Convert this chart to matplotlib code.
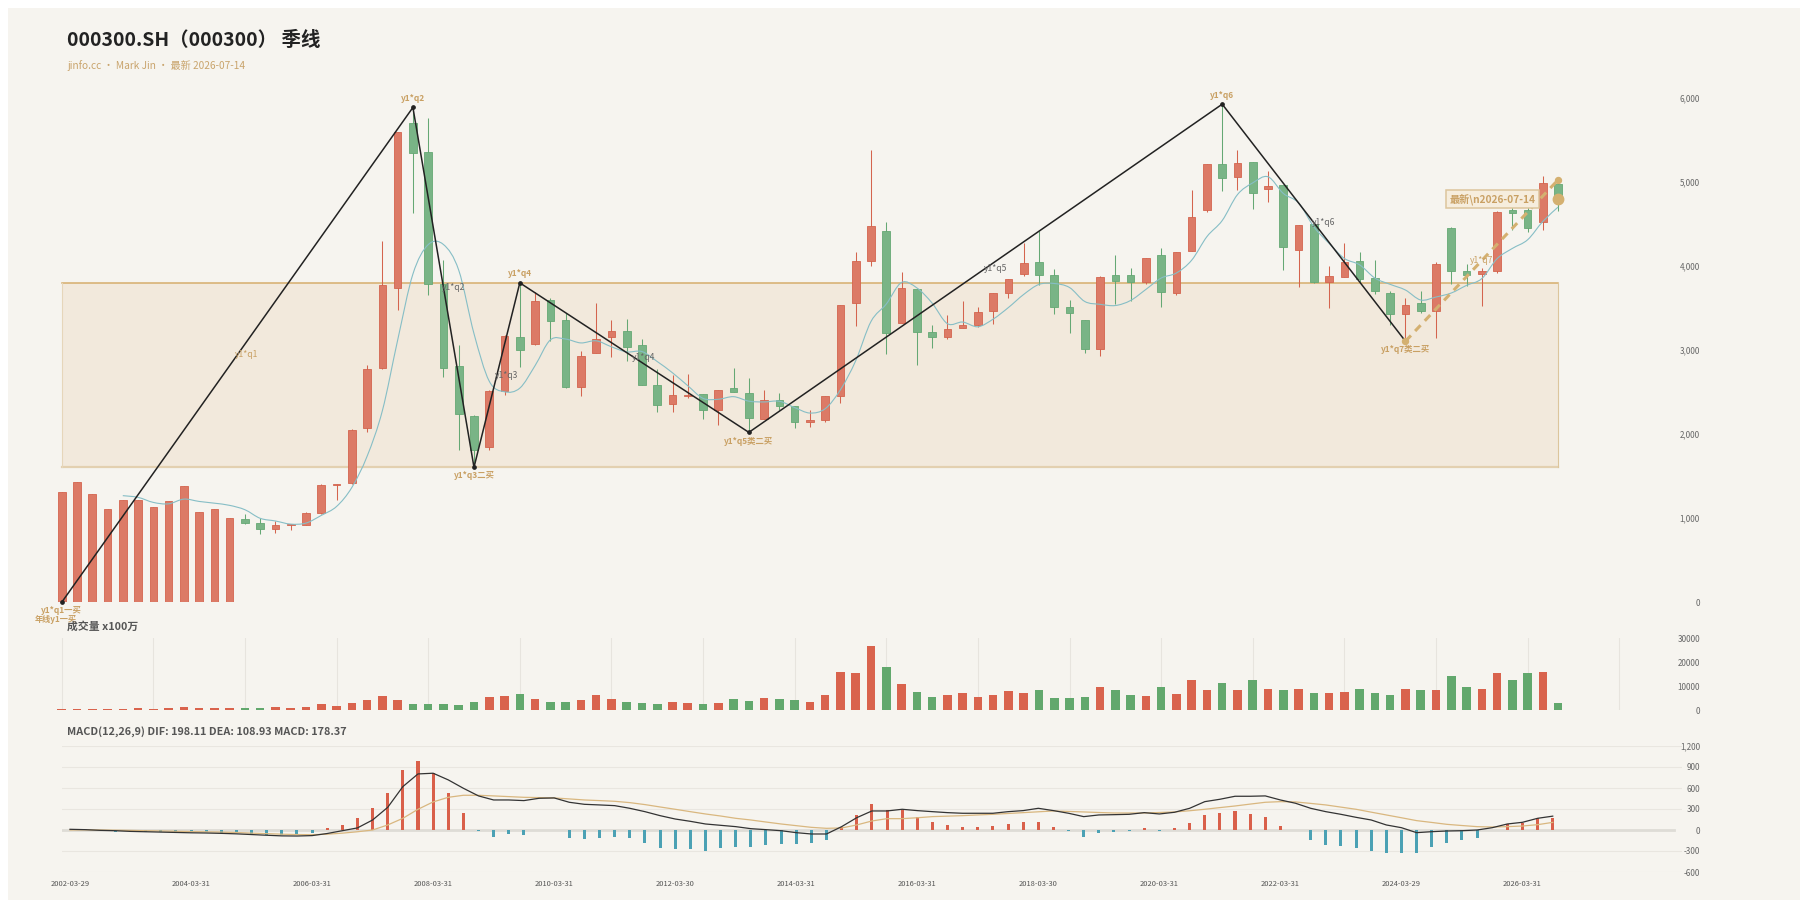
import numpy as np
import pandas as pd
import matplotlib
matplotlib.use("Agg")
import matplotlib.pyplot as plt
from matplotlib.patches import Rectangle, PathPatch
from matplotlib.path import Path

plt.rcParams['font.family'] = ['Noto Sans CJK SC', 'DejaVu Sans']
plt.rcParams['axes.unicode_minus'] = False

# ---------------- data ----------------
title = "000300.SH（000300） 季线"
subtitle = "jinfo.cc · Mark Jin · 最新 2026-07-14"
vol_title = "成交量 x100万"
macd_title = "MACD(12,26,9) DIF: 198.11 DEA: 108.93 MACD: 178.37"

opens = [0, 0, 0, 0, 0, 0, 0, 0, 0, 0, 0, 0,
         992, 941, 874, 918, 923, 1063, 1397, 1418, 2071, 2791, 3745, 5711, 5364, 3795, 2812, 2213,
         1849, 2510, 3155, 3075, 3598, 3356, 2561, 2967, 3155, 3230, 3063, 2590, 2364, 2452, 2477,
         2289, 2552, 2490, 2184, 2414, 2331, 2151, 2172, 2456, 3565, 4059, 4423, 3322, 3732, 3218,
         3155, 3264, 3305, 3473, 3678, 3912, 4054, 3900, 3510, 3364, 3021, 3900, 3900, 3816, 4130,
         3678, 4180, 4671, 5221, 5065, 5247, 4922, 4965, 4199, 4498, 3810, 3870, 4069, 3861, 3688,
         3437, 3567, 3463, 4459, 3944, 3905, 3939, 4671, 4675, 4524, 4978]
closes = [1314, 1431, 1285, 1105, 1213, 1213, 1130, 1201, 1385, 1075, 1109, 1000,
          941, 874, 916, 923, 1063, 1397, 1405, 2046, 2782, 3774, 5594, 5343, 3795, 2791, 2247, 1816,
          2510, 3167, 3008, 3586, 3347, 2561, 2937, 3134, 3230, 3042, 2582, 2343, 2464, 2462, 2289,
          2527, 2498, 2197, 2414, 2331, 2151, 2172, 2456, 3544, 4059, 4485, 3209, 3741, 3222, 3155,
          3259, 3305, 3460, 3678, 3845, 4038, 3900, 3515, 3439, 3013, 3870, 3828, 3816, 4096, 3690,
          4172, 4590, 5221, 5052, 5234, 4870, 4952, 4229, 4489, 3810, 3883, 4056, 3848, 3701, 3437,
          3545, 3463, 4026, 3939, 3892, 3948, 4649, 4636, 4455, 4987, 4801]
highs = [1314, 1431, 1285, 1105, 1213, 1213, 1130, 1201, 1385, 1075, 1109, 1000,
         1054, 1000, 962, 930, 1075, 1410, 1412, 2060, 2830, 4297, 5600, 5891, 5770, 4079, 3063,
         2230, 2530, 3188, 3803, 3699, 3620, 3440, 2990, 3561, 3356, 3377, 3130, 2782, 2707, 2720,
         2477, 2527, 2791, 2665, 2531, 2490, 2331, 2289, 2456, 3544, 4172, 5385, 4527, 3929, 3732,
         3301, 3418, 3586, 3510, 3678, 3845, 4276, 4423, 3962, 3594, 3364, 3887, 4130, 3983, 4096,
         4222, 4172, 4904, 5221, 5930, 5385, 5247, 5138, 4965, 4489, 4498, 4004, 4273, 4173, 4074,
         3710, 3623, 3710, 4048, 4467, 4026, 3978, 4662, 4727, 4727, 5074, 5052]
lows = [0, 0, 0, 0, 0, 0, 0, 0, 0, 0, 0, 0,
        929, 812, 824, 855, 918, 1050, 1222, 1410, 2030, 2780, 3481, 4632, 3661, 2686, 1808,
        1607, 1810, 2464, 2799, 3060, 3105, 2550, 2460, 2967, 2916, 2874, 2582, 2268, 2268, 2430,
        2184, 2109, 2498, 2023, 2184, 2289, 2080, 2092, 2142, 2372, 3293, 4004, 2958, 3322, 2824,
        3029, 3138, 3264, 3272, 3314, 3619, 3879, 3774, 3427, 3201, 2971, 2937, 3556, 3586, 3795,
        3510, 3661, 4180, 4650, 4892, 4913, 4684, 4771, 3957, 3753, 3800, 3502, 3870, 3818, 3675,
        3299, 3108, 3450, 3147, 3788, 3766, 3524, 3926, 4433, 4403, 4433, 4662]
volumes = [420, 420, 420, 420, 420, 840, 420, 840, 1120, 840, 840, 840,
           840, 840, 1120, 840, 1255, 2510, 1530, 2790, 4320, 5720, 4180, 2370, 2370, 2370, 2230,
           3490, 5300, 5860, 6560, 4740, 3350, 3210, 4040, 6140, 4460, 3490, 2930, 2370, 3210, 2790,
           2510, 2790, 4460, 3770, 5020, 4460, 4040, 3350, 6420, 15900, 15480, 26920, 18130, 10880,
           7390, 5300, 6140, 7250, 5300, 6280, 7950, 6970, 8230, 5160, 4880, 5300, 9480, 8230, 6420,
           5860, 9480, 6560, 12550, 8370, 11300, 8370, 12550, 8930, 8230, 8650, 7110, 7110, 7670,
           8650, 7110, 6280, 8650, 8370, 8230, 14230, 9480, 8650, 15480, 12410, 15340, 15760, 2790]
dif = [10, 5, -5, -10, -20, -25, -30, -35, -40, -43, -48, -55, -65, -75, -84, -86, -80, -50,
       -10, 30, 143, 324, 620, 801, 811, 716, 596, 487, 429, 429, 420, 453, 458, 396, 367, 358,
       348, 310, 262, 205, 157, 124, 86, 67, 48, 19, 5, -10, -38, -57, -57, 48, 176, 272, 272,
       296, 277, 262, 248, 239, 239, 239, 262, 277, 310, 277, 239, 191, 215, 219, 224, 248, 229,
       253, 310, 405, 439, 482, 482, 487, 429, 382, 310, 262, 224, 181, 143, 72, 33, -38, -24,
       -14, -10, 0, 33, 86, 110, 167, 198]
dea = [0, 2, 0, -3, -6, -10, -14, -18, -22, -26, -30, -36, -45, -52, -60, -65, -67, -60, -45,
       -25, 0, 72, 167, 296, 401, 467, 496, 496, 487, 477, 467, 463, 458, 444, 429, 420, 410, 391,
       363, 329, 296, 262, 229, 200, 167, 143, 114, 86, 62, 38, 24, 29, 72, 129, 162, 162, 175,
       191, 198, 205, 215, 224, 236, 248, 260, 272, 265, 258, 250, 243, 243, 243, 250, 258, 275,
       296, 320, 343, 370, 396, 405, 401, 380, 358, 327, 296, 255, 215, 175, 134, 108, 81, 64,
       48, 43, 48, 57, 76, 109]
macd_hist = [0, 10, -5, -24, -24, -33, -33, -33, -24, -24, -38, -48, -62, -72, -72, -72, -48, 24,
             67, 167, 320, 530, 854, 987, 811, 530, 239, -14, -95, -62, -72, -5, -5, -110, -129,
             -119, -105, -119, -181, -253, -277, -277, -296, -262, -248, -248, -219, -200, -200,
             -191, -143, 38, 215, 367, 286, 286, 191, 119, 72, 48, 38, 57, 86, 119, 110, 48, -10,
             -105, -48, -24, -14, 29, -10, 29, 100, 215, 248, 277, 224, 181, 52, -5, -143, -215,
             -234, -262, -296, -334, -334, -324, -238, -181, -143, -110, 0, 86, 95, 167, 178]

pivot_idx = [0, 23, 27, 30, 45, 76, 88]
pivot_val = [0, 5891, 1607, 3803, 2023, 5930, 3108]
pivot_labels = ["y1*q1一买", "y1*q2", "y1*q3二买", "y1*q4", "y1*q5类二买", "y1*q6", "y1*q7类二买"]
pivot_is_high = [False, True, False, True, False, True, False]
segment_labels = ["y1*q1", "y1*q2", "y1*q3", "y1*q4", "y1*q5", "y1*q6"]
extra_pivot_label = "年线y1一买"
zone_low, zone_high = 1607, 3803
latest_idx, latest_close, latest_line_end = 98, 4801, 5030
latest_label = "最新\\n2026-07-14"
seg7_label = "y1*q7"

price_ticks = [0, 1000, 2000, 3000, 4000, 5000, 6000]
vol_ticks = [0, 10000, 20000, 30000]
macd_ticks = [-600, -300, 0, 300, 600, 900, 1200]
date_tick_idx = [0, 8, 16, 24, 32, 40, 48, 56, 64, 72, 80, 88, 96]
date_tick_labels = ["2002-03-29", "2004-03-31", "2006-03-31", "2008-03-31", "2010-03-31",
                    "2012-03-30", "2014-03-31", "2016-03-31", "2018-03-30", "2020-03-31",
                    "2022-03-31", "2024-03-29", "2026-03-31"]

# ---------------- styling ----------------
BG = '#f6f4ef'
RED_BODY, RED_EDGE = '#dc7a66', '#d4644e'
GRN_BODY, GRN_EDGE = '#79b486', '#65a874'
VOL_RED, VOL_GRN = '#d9634d', '#62a86d'
TAN = '#c9a063'
TXT = '#666666'

o = np.array(opens, float); c = np.array(closes, float)
h = np.array(highs, float); l = np.array(lows, float)
n = len(o)
x = np.arange(n)
up = c >= o

W, H = 1800, 900
fig = plt.figure(figsize=(18, 9), dpi=100, facecolor='white')
fig.patches.append(Rectangle((8 / W, 0), 1 - 8 / W, 1 - 8 / H, transform=fig.transFigure,
                             facecolor=BG, edgecolor='none', zorder=-10))


def rect(left, top, right, bottom):
    return [left / W, 1 - bottom / H, (right - left) / W, (bottom - top) / H]


def clean(ax):
    ax.set_facecolor('none')
    for s in ax.spines.values():
        s.set_visible(False)
    ax.tick_params(length=0)


STEP = 15.27
X0 = -(61.7 - 55) / STEP
X1 = X0 + (1682 - 55) / STEP

# ---------------- main price panel ----------------
ax = fig.add_axes(rect(55, 98.3, 1682, 602.3))
clean(ax)
ax.set_xlim(X0, X1)
ax.set_ylim(0, 6000)
ax.set_xticks([])
ax.yaxis.tick_right()
ax.set_yticks(price_ticks)
ax.set_yticklabels([f"{v:,}" for v in price_ticks])
ax.tick_params(axis='y', pad=13, labelsize=5.8, labelcolor=TXT)
for t in ax.get_yticklabels():
    t.set_ha('right')

# zone
ax.add_patch(Rectangle((0, zone_low), 98, zone_high - zone_low, facecolor='#ecd9bd',
                       alpha=0.38, edgecolor='none', zorder=1))
ax.plot([0, 98], [zone_high, zone_high], color='#d6ad6c', lw=1.1, zorder=2)
ax.plot([0, 98], [zone_low, zone_low], color='#e3d0b0', lw=1.6, zorder=2)
ax.plot([0, 0], [zone_low, zone_high], color='#e6d6ba', lw=0.8, zorder=2)
ax.plot([98, 98], [zone_low, zone_high], color='#dcc59c', lw=0.8, zorder=2)

# candles
body_col = np.where(up, RED_BODY, GRN_BODY)
edge_col = np.where(up, RED_EDGE, GRN_EDGE)
ax.vlines(x, l, h, colors=edge_col, lw=0.75, zorder=3)
ax.bar(x, np.maximum(np.abs(c - o), 10), bottom=np.minimum(o, c), width=0.5,
       color=body_col, edgecolor=edge_col, lw=0.6, zorder=4)

# moving average (5) with smooth bezier rendering
ma = pd.Series(c).rolling(5).mean().to_numpy()
mask = ~np.isnan(ma)
px, py = x[mask].astype(float), ma[mask]
verts = [(px[0], py[0])]
codes = [Path.MOVETO]
k = 1 / 6
for i in range(len(px) - 1):
    pm = (px[max(i - 1, 0)], py[max(i - 1, 0)])
    p0 = (px[i], py[i]); p1 = (px[i + 1], py[i + 1])
    p2 = (px[min(i + 2, len(px) - 1)], py[min(i + 2, len(px) - 1)])
    c1 = (p0[0] + (p1[0] - pm[0]) * k, p0[1] + (p1[1] - pm[1]) * k)
    c2 = (p1[0] - (p2[0] - p0[0]) * k, p1[1] - (p2[1] - p0[1]) * k)
    verts += [c1, c2, p1]
    codes += [Path.CURVE4] * 3
ax.add_patch(PathPatch(Path(verts, codes), facecolor='none', edgecolor='#86bec6', lw=0.8, zorder=5))

# zigzag
ax.plot(pivot_idx, pivot_val, color='#222222', lw=1.1, zorder=6, marker='o', ms=2.4, clip_on=False)
for xi, yi, lab, hi in zip(pivot_idx, pivot_val, pivot_labels, pivot_is_high):
    ax.annotate(lab, (xi, yi), xytext=(0, 6.6 if hi else -6.2), textcoords='offset points',
                ha='center', va='center', fontsize=6.0, fontweight='bold', color=TAN,
                zorder=8, annotation_clip=False)
ax.annotate(extra_pivot_label, (pivot_idx[0], pivot_val[0]), xytext=(-4.5, -12.6),
            textcoords='offset points', ha='center', va='center', fontsize=5.9,
            fontweight='bold', color=TAN, zorder=8, annotation_clip=False)
seg_colors = [TAN] + ['#666666'] * 5
for j, lab in enumerate(segment_labels):
    mx = (pivot_idx[j] + pivot_idx[j + 1]) / 2
    my = (pivot_val[j] + pivot_val[j + 1]) / 2
    ax.annotate(lab, (mx, my), xytext=(7, 0), textcoords='offset points', ha='center',
                va='center', fontsize=6.2, color=seg_colors[j], zorder=8)

# latest dashed line
ax.plot([pivot_idx[-1], latest_idx], [pivot_val[-1], latest_line_end], color='#d4b070',
        lw=2.2, ls=(0, (2.6, 2)), zorder=7, clip_on=False)
ax.plot([pivot_idx[-1], latest_idx], [pivot_val[-1], latest_line_end], 'o', ms=4.3,
        color='#d4b070', zorder=7, ls='none')
ax.plot([latest_idx], [latest_close], 'o', ms=7.5, color='#d4b070', zorder=9)
ax.annotate(seg7_label, ((pivot_idx[-1] + latest_idx) / 2, (pivot_val[-1] + latest_line_end) / 2),
            xytext=(0, 0), textcoords='offset points', ha='center', va='center',
            fontsize=6.2, color=TAN, zorder=8)
ax.text(93.7, latest_close, latest_label, ha='center', va='center', fontsize=7.3,
        fontweight='bold', color=TAN, zorder=10,
        bbox=dict(boxstyle='square,pad=0.35', fc='#f6eddd', ec='#dcc59c', lw=1.1))

# ---------------- volume panel ----------------
av = fig.add_axes(rect(55, 638.3, 1682, 710))
clean(av)
av.set_xlim(X0, X1)
av.set_ylim(0, 30000)
av.set_xticks([])
for gx in range(0, 103, 6):
    av.axvline(gx, color='#e7e4de', lw=0.8, zorder=0)
av.bar(x, volumes, width=0.56, color=np.where(up, VOL_RED, VOL_GRN), zorder=3)
av.yaxis.tick_right()
av.set_yticks(vol_ticks)
av.set_yticklabels([str(v) for v in vol_ticks])
av.tick_params(axis='y', pad=13, labelsize=5.8, labelcolor=TXT)
for t in av.get_yticklabels():
    t.set_ha('right')

# ---------------- MACD panel ----------------
STEP_M = 15.13
XM0 = -(70 - 62) / STEP_M
XM1 = XM0 + (1682 - 62) / STEP_M
am = fig.add_axes(rect(62, 746, 1682, 872))
clean(am)
am.set_xlim(XM0, XM1)
am.set_ylim(-600, 1200)
for v in macd_ticks:
    if v != 0:
        am.axhline(v, color='#e9e6e0', lw=0.8, zorder=0)
am.axhline(0, xmax=(1674 - 62) / (1682 - 62), color='#dedcd6', lw=2.0, zorder=0)
hist = np.array(macd_hist, float)
am.bar(x, hist, width=0.2, color=np.where(hist >= 0, '#d9604a', '#4ba1b4'), zorder=3)
am.plot(x, dea, color='#d9b77f', lw=0.9, zorder=4)
am.plot(x, dif, color='#333333', lw=0.9, zorder=5)
am.yaxis.tick_right()
am.set_yticks(macd_ticks)
am.set_yticklabels([f"{v:,}" for v in macd_ticks])
am.tick_params(axis='y', pad=13, labelsize=5.8, labelcolor=TXT)
for t in am.get_yticklabels():
    t.set_ha('right')
am.set_xticks(date_tick_idx)
am.set_xticklabels(date_tick_labels)
am.tick_params(axis='x', pad=6, labelsize=5.4, labelcolor='#555555')

# ---------------- texts ----------------
fig.text(67 / W, 1 - 40 / H, title, ha='left', va='center', fontsize=14.0,
         fontweight='bold', color='#222222')
fig.text(67 / W, 1 - 66 / H, subtitle, ha='left', va='center', fontsize=7.3, color='#c9a46c')
fig.text(67 / W, 1 - 626 / H, vol_title, ha='left', va='center', fontsize=7.8,
         fontweight='bold', color='#555555')
fig.text(67 / W, 1 - 732 / H, macd_title, ha='left', va='center', fontsize=7.8,
         fontweight='bold', color='#555555')

fig.savefig("out.png", dpi=100, facecolor=fig.get_facecolor())
